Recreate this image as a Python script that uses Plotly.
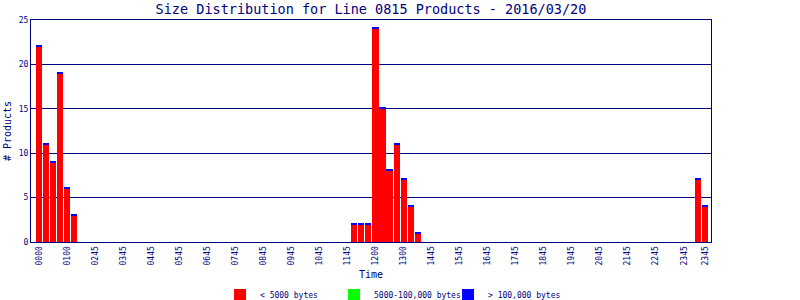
import plotly.graph_objects as go

# counts per 15-minute slot (96 slots)
small_counts = [
    22, 11, 9, 19, 6, 3, 0, 0, 0, 0, 0, 0,
    0, 0, 0, 0, 0, 0, 0, 0, 0, 0, 0, 0,
    0, 0, 0, 0, 0, 0, 0, 0, 0, 0, 0, 0,
    0, 0, 0, 0, 0, 0, 0, 0, 0, 2, 2, 2,
    24, 15, 8, 11, 7, 4, 1, 0, 0, 0, 0, 0,
    0, 0, 0, 0, 0, 0, 0, 0, 0, 0, 0, 0,
    0, 0, 0, 0, 0, 0, 0, 0, 0, 0, 0, 0,
    0, 0, 0, 0, 0, 0, 0, 0, 0, 0, 7, 4,
]
medium_counts = [0] * 96
large_counts = [
    0.12, 0.12, 0.12, 0.12, 0.12, 0.12, 0, 0, 0, 0, 0, 0,
    0, 0, 0, 0, 0, 0, 0, 0, 0, 0, 0, 0,
    0, 0, 0, 0, 0, 0, 0, 0, 0, 0, 0, 0,
    0, 0, 0, 0, 0, 0, 0, 0, 0, 0.12, 0.12, 0.12,
    0.12, 0.12, 0.12, 0.12, 0.12, 0.12, 0.12, 0, 0, 0, 0, 0,
    0, 0, 0, 0, 0, 0, 0, 0, 0, 0, 0, 0,
    0, 0, 0, 0, 0, 0, 0, 0, 0, 0, 0, 0,
    0, 0, 0, 0, 0, 0, 0, 0, 0, 0, 0.12, 0.12,
]
tick_labels = ["0000", "0100", "0245", "0345", "0445", "0545", "0645", "0745",
               "0845", "0945", "1045", "1145", "1200", "1300", "1445", "1545",
               "1645", "1745", "1845", "1945", "2045", "2145", "2245", "2345",
               "2345"]
series_names = ["< 5000 bytes", "5000-100,000 bytes", "> 100,000 bytes"]

slots = list(range(len(small_counts)))
tick_pos = list(range(0, len(slots), 4)) + [len(slots) - 1]

NAVY = "#000080"
FONT = "DejaVu Sans Mono"

fig = go.Figure()
for name, vals, col in zip(series_names, [small_counts, medium_counts, large_counts],
                           ["#ff0000", "#00ff00", "#0000ff"]):
    fig.add_trace(go.Bar(x=slots, y=vals, name=name,
                         marker=dict(color=col, line=dict(width=0))))

fig.update_layout(
    width=800, height=300,
    margin=dict(l=31, r=89, t=20, b=58, autoexpand=False),
    barmode="stack", bargap=0.14,
    paper_bgcolor="white", plot_bgcolor="white",
    title=dict(text="Size Distribution for Line 0815 Products - 2016/03/20",
               font=dict(family=FONT, size=13.5, color=NAVY),
               x=0.5, xref="paper", xanchor="center",
               y=1 - 9 / 300, yref="container", yanchor="middle"),
    font=dict(family=FONT, color=NAVY, size=8),
    xaxis=dict(range=[-1.14, 95.86], tickmode="array", tickvals=tick_pos, ticktext=tick_labels,
               tickangle=-90, showline=True, mirror=True, linecolor=NAVY, linewidth=1,
               showgrid=False, zeroline=False, ticks="", automargin=False,
               tickfont=dict(size=8, family=FONT, color=NAVY),
               title=dict(text="Time", font=dict(size=10, family=FONT, color=NAVY), standoff=14)),
    yaxis=dict(range=[0, 25], dtick=5, showline=True, mirror=True, linecolor=NAVY, linewidth=1,
               showgrid=True, gridcolor=NAVY, gridwidth=1, zeroline=False, ticks="", automargin=False,
               tickfont=dict(size=8, family=FONT, color=NAVY),
               title=dict(text="# Products", font=dict(size=10, family=FONT, color=NAVY), standoff=5)),
    legend=dict(orientation="h", x=0.278, xanchor="left",
                y=5 / 300, yref="container", yanchor="middle",
                entrywidth=69, entrywidthmode="pixels",
                font=dict(size=8, family=FONT, color=NAVY), traceorder="normal",
                itemclick=False),
)

fig.write_html("out.html")
